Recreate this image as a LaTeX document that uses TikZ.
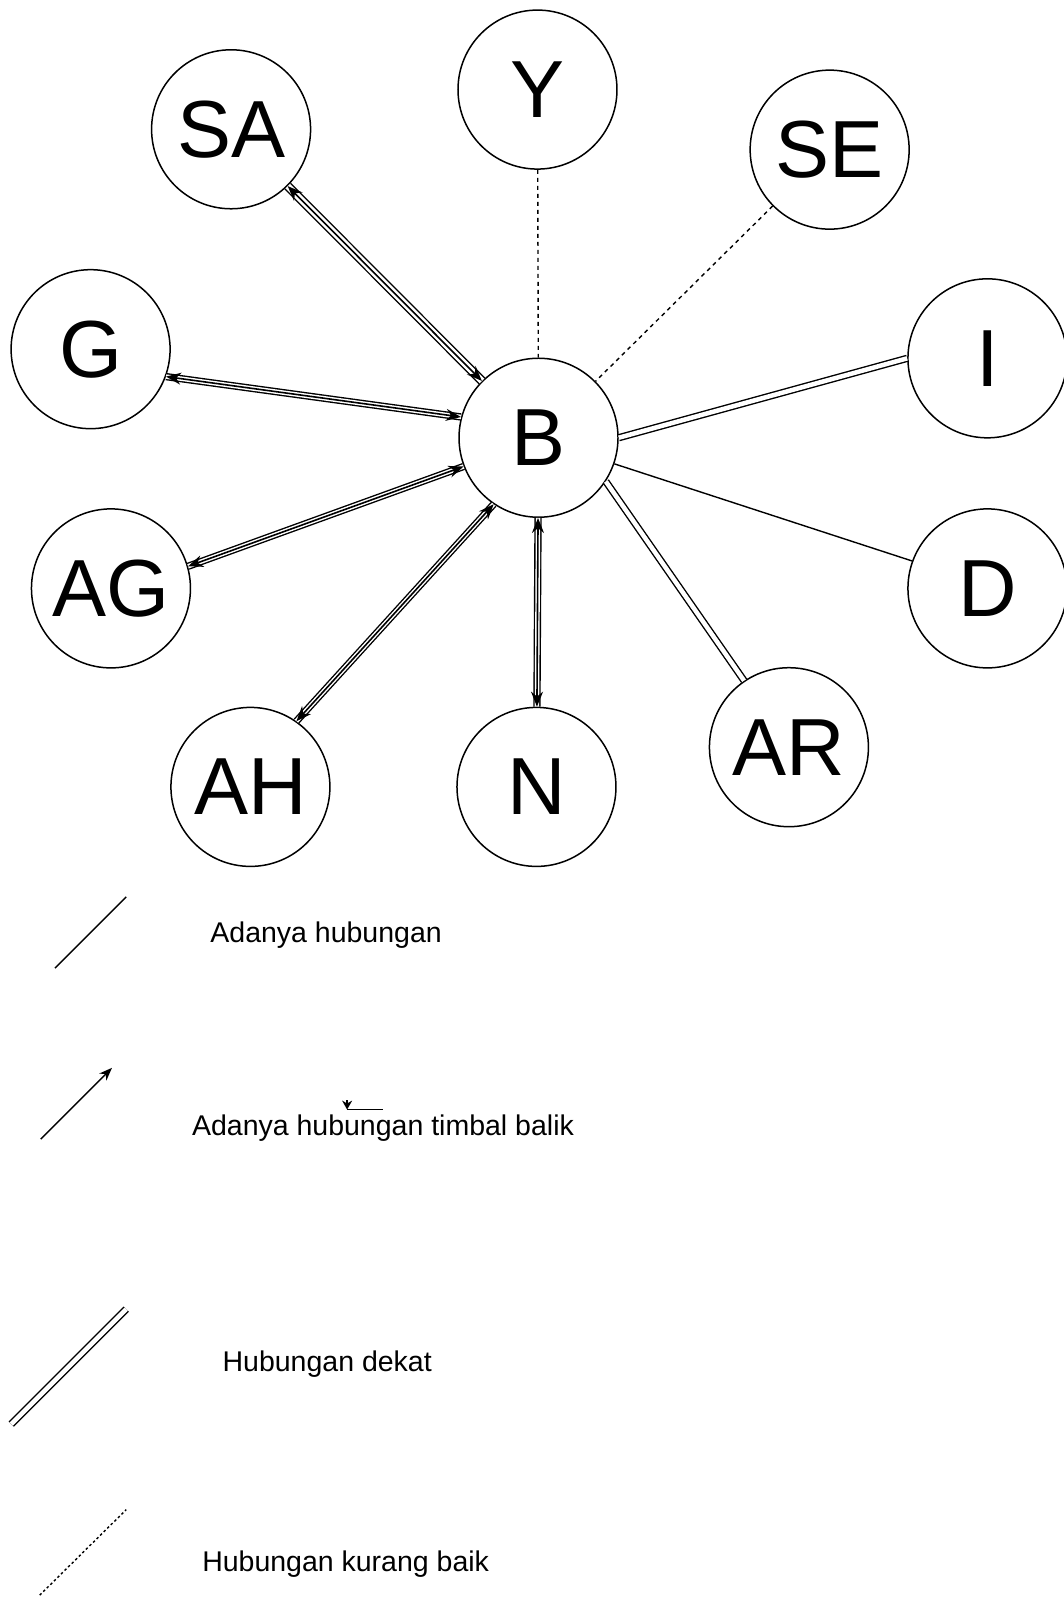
\documentclass[tikz,border=0pt]{standalone}
\usepackage{fontspec}
\setmainfont{Liberation Sans}
\usetikzlibrary{arrows.meta}

\tikzset{
  tokoh/.style={circle, draw, line width=1.5pt, minimum size=159pt, inner sep=0pt,
    font=\fontsize{81}{84}\selectfont},
  dekat/.style={double, double distance=4.5pt, line width=1.4pt},
  balik/.style={{Stealth[length=15pt,width=12pt]}-{Stealth[length=15pt,width=12pt]}, line width=1.6pt},
  kurang/.style={dash pattern=on 4pt off 4pt, line width=1.4pt},
  ket/.style={anchor=base west, inner sep=0pt, font=\fontsize{28.5}{30}\selectfont}
}

\begin{document}
\begin{tikzpicture}[x=1.018pt, y=-1.018pt, line width=1.4pt]
\useasboundingbox (0,0) rectangle (1045.2,1568.8);

% tokoh
\node[tokoh] (Y)  at (528,88)  {Y};
\node[tokoh] (SA) at (227,127) {SA};
\node[tokoh] (SE) at (815,147) {SE};
\node[tokoh] (G)  at (89,343)  {G};
\node[tokoh] (I)  at (970,352) {I};
\node[tokoh] (B)  at (529,430) {B};
\node[tokoh] (AG) at (109,578) {AG};
\node[tokoh] (D)  at (970,578) {D};
\node[tokoh] (AH) at (246,773) {AH};
\node[tokoh] (N)  at (527,773) {N};
\node[tokoh] (AR) at (775,734) {AR};

% hubungan kurang baik
\draw[kurang] (Y) -- (B);
\draw[kurang] (SE) -- (B);

% hubungan dekat + timbal balik
\draw[dekat, double distance=6.5pt] (SA) -- (B);
\draw[balik] (SA) -- (B);
\draw[dekat] (G.-20) -- (B.165);
\draw[balik] (G.-20) -- (B.165);
\draw[dekat] (AG.16) -- (B.201);
\draw[balik] (AG.16) -- (B.201);
\draw[dekat] (AH.55) -- (B.236);
\draw[balik] (AH.55) -- (B.236);
\draw[dekat] (N) -- (B);
\draw[balik] (N) -- (B);

% hubungan dekat
\draw[dekat] (B.east) -- (I.west);
\draw[dekat] (B.-33) -- (AR.124);

% adanya hubungan
\draw (B.-19) -- (D.160);

% keterangan
\coordinate (l1a) at (54,951);
\coordinate (l1b) at (124,881);
\draw (l1a) -- (l1b);
\node[ket] (k1) at (206,926) {Adanya hubungan};

\coordinate (l2a) at (40,1119);
\coordinate (l2b) at (110,1049);
\draw[-{Stealth[length=13pt,width=10pt]}] (l2a) -- (l2b);
\coordinate (p1) at (376,1090);
\coordinate (p2) at (341,1090);
\draw (p1) -- (p2);
\draw[-{Stealth[length=9pt,width=10pt]}] (341,1081) -- (p2);
\node[ket] (k2) at (188,1115) {Adanya hubungan timbal balik};

\coordinate (l3a) at (11,1399);
\coordinate (l3b) at (124,1286);
\draw[dekat] (l3a) -- (l3b);
\node[ket] (k3) at (218,1347) {Hubungan dekat};

\coordinate (l4a) at (39,1567);
\coordinate (l4b) at (124,1483);
\draw[dash pattern=on 2.5pt off 2.5pt] (l4a) -- (l4b);
\node[ket] (k4) at (198,1544) {Hubungan kurang baik};
\end{tikzpicture}
\end{document}
